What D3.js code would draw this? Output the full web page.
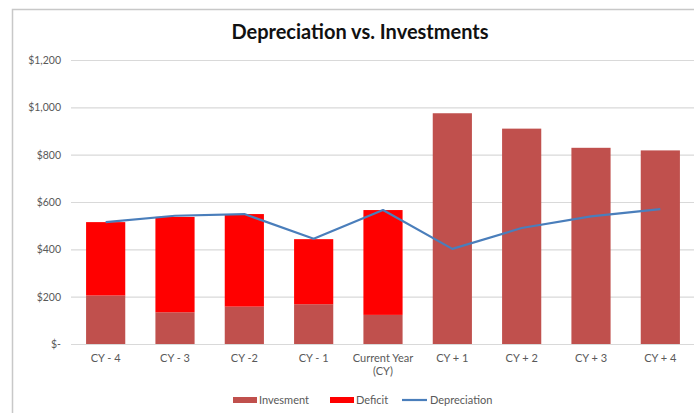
<!DOCTYPE html>
<html>
<head>
<meta charset="utf-8">
<script src="https://cdn.jsdelivr.net/npm/d3@7"></script>
<style>
  body { margin: 0; background: #fff; }
  text { font-family: Lato, 'Open Sans', sans-serif; }
</style>
</head>
<body>
<div id="chart"></div>
<script>
// chart data
var categories = ['CY - 4', 'CY - 3', 'CY -2', 'CY - 1', 'Current Year\n(CY)', 'CY + 1', 'CY + 2', 'CY + 3', 'CY + 4']
var investment = [205, 134, 158, 168, 123, 975, 910, 829, 818]
var deficit = [310, 403, 391, 275, 443, 0, 0, 0, 0]
var depreciation = [515, 542, 549, 445, 566, 402, 490, 539, 570]
var yTicks = [0, 200, 400, 600, 800, 1000, 1200]

var COLOR = {
  INVEST: '#c0504d',
  DEFICIT: '#ff0000',
  LINE: '#4a7ebb',
  GRID: '#d9d9d9',
  TEXT: '#595959'
}

var width = 694
var height = 413
var margin = { top: 60, bottom: 69, left: 71, right: -1 }

var svg = d3
  .select('#chart')
  .append('svg')
  .attr('width', width)
  .attr('height', height)

// outer frame
svg
  .append('path')
  .attr('d', 'M12.5,' + height + 'V9.5H' + width)
  .attr('fill', 'none')
  .attr('stroke', '#c8c8c8')
  .attr('stroke-width', 1.5)

svg
  .append('text')
  .attr('x', 360)
  .attr('y', 39)
  .attr('text-anchor', 'middle')
  .attr('font-size', '20px')
  .attr('font-weight', 'bold')
  .attr('fill', '#111')
  .text('Depreciation vs. Investments')

var x = d3
  .scaleBand()
  .domain(categories)
  .range([margin.left, width - margin.right])
  .paddingInner(0.435)
  .paddingOuter(0.2175)

var y = d3
  .scaleLinear()
  .domain([0, 1200])
  .range([height - margin.bottom, margin.top])

// gridlines + y labels
var yAxis = svg
  .append('g')
  .attr('class', 'y-axis')
  .attr('transform', 'translate(' + margin.left + ',0)')
  .call(
    d3
      .axisLeft(y)
      .tickValues(yTicks)
      .tickSize(-(width - margin.left - margin.right))
      .tickPadding(10)
      .tickFormat(d => (d === 0 ? '$-' : '$' + d3.format(',')(d)))
  )
yAxis.select('.domain').remove()
yAxis.selectAll('.tick line').attr('stroke', COLOR.GRID).attr('stroke-width', 1.2)
yAxis
  .selectAll('.tick text')
  .attr('fill', COLOR.TEXT)
  .attr('font-size', '10.5px')

// stacked bars
var stacked = categories.map((c, i) => ({ cat: c, inv: investment[i], def: deficit[i] }))

svg
  .selectAll('.bar-inv')
  .data(stacked)
  .enter()
  .append('rect')
  .attr('class', 'bar-inv')
  .attr('x', d => x(d.cat))
  .attr('width', x.bandwidth())
  .attr('y', d => y(d.inv))
  .attr('height', d => y(0) - y(d.inv))
  .attr('fill', COLOR.INVEST)

svg
  .selectAll('.bar-def')
  .data(stacked.filter(d => d.def > 0))
  .enter()
  .append('rect')
  .attr('class', 'bar-def')
  .attr('x', d => x(d.cat))
  .attr('width', x.bandwidth())
  .attr('y', d => y(d.inv + d.def))
  .attr('height', d => y(d.inv) - y(d.inv + d.def))
  .attr('fill', COLOR.DEFICIT)

// depreciation line
var line = d3
  .line()
  .x((d, i) => x(categories[i]) + x.bandwidth() / 2)
  .y(d => y(d))

svg
  .append('path')
  .datum(depreciation)
  .attr('d', line)
  .attr('fill', 'none')
  .attr('stroke', COLOR.LINE)
  .attr('stroke-width', 2.2)
  .attr('stroke-linejoin', 'round')

// x axis
var xAxis = svg
  .append('g')
  .attr('transform', 'translate(0,' + y(0) + ')')
  .call(d3.axisBottom(x).tickSize(0).tickPadding(10).tickFormat(''))
xAxis.select('.domain').attr('stroke', COLOR.GRID).attr('stroke-width', 1.2)

xAxis.selectAll('.tick').each(function (d) {
  var t = d3
    .select(this)
    .append('text')
    .attr('fill', COLOR.TEXT)
    .attr('font-size', '11px')
    .attr('text-anchor', 'middle')
  d.split('\n').forEach((s, i) => {
    t.append('tspan').attr('x', 0).attr('y', 18 + i * 13).text(s)
  })
})

// legend
var legend = [
  { name: 'Invesment', type: 'rect', color: COLOR.INVEST, x: 233 },
  { name: 'Deficit', type: 'rect', color: COLOR.DEFICIT, x: 330 },
  { name: 'Depreciation', type: 'line', color: COLOR.LINE, x: 402 }
]
var lg = svg
  .selectAll('.legend')
  .data(legend)
  .enter()
  .append('g')
  .attr('transform', d => 'translate(' + d.x + ',400)')

lg.filter(d => d.type === 'rect')
  .append('rect')
  .attr('y', -3)
  .attr('width', 24)
  .attr('height', 6)
  .attr('fill', d => d.color)

lg.filter(d => d.type === 'line')
  .append('line')
  .attr('x2', 25)
  .attr('stroke', d => d.color)
  .attr('stroke-width', 2.2)

lg.append('text')
  .attr('x', d => (d.type === 'line' ? 28 : 26))
  .attr('y', 4)
  .attr('font-size', '11px')
  .attr('fill', COLOR.TEXT)
  .text(d => d.name)
</script>
</body>
</html>
